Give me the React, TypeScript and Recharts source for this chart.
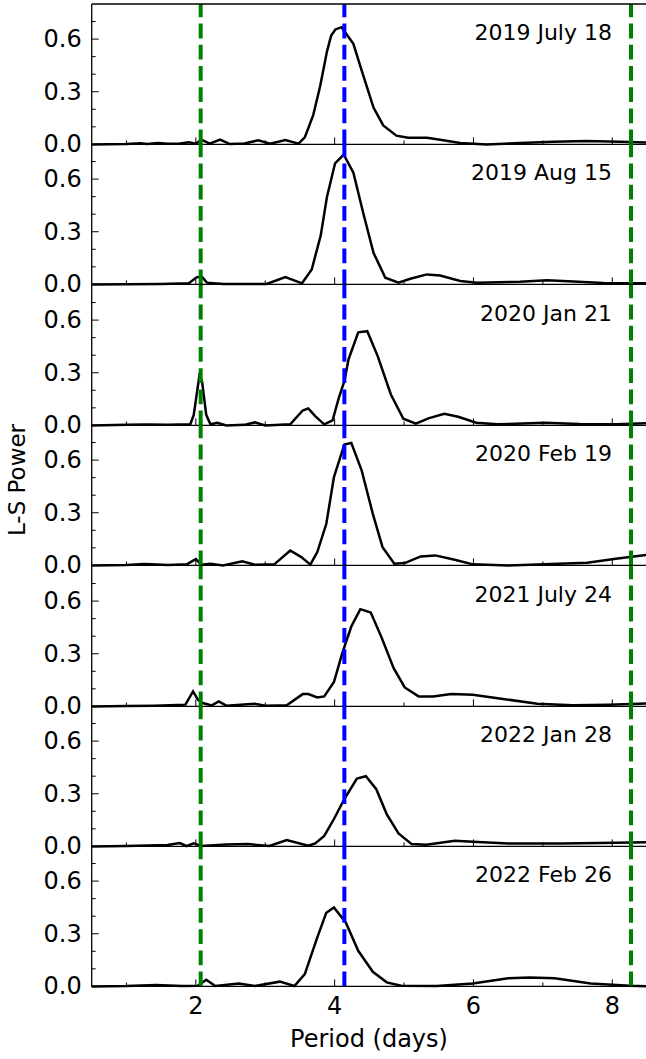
import { LineChart, Line, XAxis, YAxis, ReferenceLine } from "recharts";

// Lomb-Scargle power per observing night
const jul19Period = [0.5, 1.0, 1.2, 1.3, 1.45, 1.6, 1.75, 1.9, 2.0, 2.08, 2.2, 2.35, 2.49, 2.7, 2.9, 3.07, 3.29, 3.48, 3.57, 3.69, 3.79, 3.84, 3.89, 3.95, 4.01, 4.1, 4.27, 4.39, 4.56, 4.7, 4.89, 5.06, 5.33, 5.52, 5.81, 6.19, 6.67, 7.15, 7.63, 8.11, 8.5];
const jul19Power = [0, 0.002, 0.006, 0.002, 0.008, 0.003, 0.004, 0.012, 0.004, 0.027, 0.004, 0.027, 0.002, 0.005, 0.023, 0.004, 0.025, 0.004, 0.04, 0.165, 0.33, 0.43, 0.53, 0.62, 0.655, 0.668, 0.573, 0.42, 0.21, 0.108, 0.05, 0.038, 0.038, 0.027, 0.008, 0, 0.008, 0.015, 0.019, 0.015, 0.011];

const aug19Period = [0.5, 1.0, 1.5, 1.9, 2.01, 2.085, 2.16, 2.4, 3.02, 3.29, 3.53, 3.67, 3.8, 3.89, 4.006, 4.13, 4.27, 4.41, 4.56, 4.73, 4.92, 5.09, 5.33, 5.52, 5.81, 6.05, 6.67, 7.06, 7.44, 7.87, 8.5];
const aug19Power = [0, 0.001, 0.002, 0.006, 0.04, 0.044, 0.01, 0.002, 0.002, 0.042, 0.006, 0.085, 0.28, 0.5, 0.69, 0.74, 0.636, 0.41, 0.18, 0.038, 0.01, 0.032, 0.057, 0.051, 0.019, 0.01, 0.015, 0.023, 0.017, 0.008, 0.006];

const jan20Period = [0.5, 1.0, 1.3, 1.6, 1.92, 1.97, 2.05, 2.09, 2.15, 2.21, 2.31, 2.44, 2.7, 2.85, 3.0, 3.36, 3.54, 3.62, 3.72, 3.85, 3.97, 4.06, 4.14, 4.2, 4.34, 4.47, 4.62, 4.81, 4.99, 5.17, 5.35, 5.58, 5.78, 6.04, 6.35, 7.02, 7.53, 8.05, 8.5];
const jan20Power = [0, 0.003, 0.005, 0.003, 0.006, 0.06, 0.28, 0.25, 0.06, 0.006, 0.015, 0, 0.003, 0.017, 0, 0.006, 0.085, 0.097, 0.053, 0.006, 0.028, 0.157, 0.252, 0.376, 0.53, 0.537, 0.395, 0.176, 0.038, 0.01, 0.04, 0.066, 0.049, 0.015, 0.006, 0.015, 0.008, 0.006, 0.012];

const feb20Period = [0.5, 1.0, 1.25, 1.36, 1.6, 1.87, 2.0, 2.08, 2.21, 2.39, 2.67, 2.85, 3.13, 3.36, 3.52, 3.65, 3.75, 3.88, 3.99, 4.14, 4.24, 4.39, 4.55, 4.69, 4.86, 5.01, 5.24, 5.45, 5.73, 5.99, 6.5, 7.02, 7.64, 8.05, 8.5];
const feb20Power = [0, 0.002, 0.008, 0.006, 0.002, 0.006, 0.036, 0.004, 0.01, 0, 0.023, 0.004, 0.006, 0.085, 0.047, 0.004, 0.076, 0.237, 0.503, 0.689, 0.698, 0.54, 0.294, 0.104, 0.01, 0.013, 0.051, 0.057, 0.032, 0.006, 0, 0.006, 0.015, 0.038, 0.06];

const jul21Period = [0.5, 1.0, 1.4, 1.85, 1.96, 2.03, 2.1, 2.23, 2.33, 2.44, 2.85, 3.0, 3.31, 3.54, 3.62, 3.75, 3.85, 3.99, 4.11, 4.24, 4.37, 4.52, 4.68, 4.85, 5.01, 5.21, 5.42, 5.68, 5.99, 6.4, 6.92, 7.43, 7.95, 8.5];
const jul21Power = [0, 0.002, 0.004, 0.01, 0.085, 0.038, 0.019, 0.006, 0.028, 0.004, 0.015, 0.004, 0.006, 0.07, 0.07, 0.051, 0.057, 0.139, 0.304, 0.455, 0.554, 0.535, 0.389, 0.218, 0.108, 0.057, 0.057, 0.07, 0.066, 0.044, 0.015, 0.006, 0.01, 0.016];

const jan22Period = [0.5, 1.0, 1.59, 1.77, 1.87, 1.97, 2.08, 2.44, 2.75, 3.06, 3.31, 3.62, 3.72, 3.85, 3.99, 4.14, 4.32, 4.45, 4.6, 4.75, 4.92, 5.11, 5.32, 5.73, 5.99, 6.5, 7.28, 8.05, 8.5];
const jan22Power = [0, 0.002, 0.008, 0.019, 0.002, 0.017, 0.002, 0.011, 0.013, 0.002, 0.036, 0.004, 0.017, 0.06, 0.156, 0.27, 0.387, 0.4, 0.326, 0.184, 0.074, 0.013, 0.01, 0.032, 0.027, 0.017, 0.017, 0.021, 0.023];

const feb22Period = [0.5, 1.0, 1.43, 1.8, 2.03, 2.15, 2.28, 2.62, 2.85, 3.21, 3.42, 3.57, 3.75, 3.88, 3.99, 4.16, 4.34, 4.55, 4.75, 4.96, 5.47, 5.99, 6.5, 6.81, 7.17, 7.69, 8.25, 8.5];
const feb22Power = [0, 0.002, 0.008, 0.002, 0.004, 0.038, 0.002, 0.017, 0.002, 0.027, 0.002, 0.07, 0.279, 0.42, 0.45, 0.364, 0.203, 0.083, 0.023, 0.004, 0.002, 0.017, 0.046, 0.051, 0.046, 0.017, 0.004, 0.001];

const panelLabels = ["2019 July 18", "2019 Aug 15", "2020 Jan 21", "2020 Feb 19", "2021 July 24", "2022 Jan 28", "2022 Feb 26"];
const periods = [jul19Period, aug19Period, jan20Period, feb20Period, jul21Period, jan22Period, feb22Period];
const powers = [jul19Power, aug19Power, jan20Power, feb20Power, jul21Power, jan22Power, feb22Power];

const rotPeriod = 4.14;
const harmonics = [2.07, 8.27];
const xTicks = [1, 2, 3, 4, 5, 6, 7, 8];
const yTicks = [0, 0.1, 0.2, 0.3, 0.4, 0.5, 0.6, 0.7];
const yMajor = [0, 0.3, 0.6];

const FONT = "DejaVu Sans";
const PLOT_LEFT = 91.7;
const PLOT_RIGHT = 647;
const TOP0 = 4;
const PANEL_H = 140.4;
const PAD = 20;
const CHART_W = 660;
const PLOT_BOTTOM = PAD + PANEL_H;

function YTick({ y, payload }: any) {
  const v = payload.value;
  const major = yMajor.some((m) => Math.abs(m - v) < 1e-6);
  return (
    <g>
      <line x1={PLOT_LEFT} x2={PLOT_LEFT + (major ? 7 : 4)} y1={y} y2={y} stroke="#000" strokeWidth={1} />
      {major && (
        <text x={PLOT_LEFT - 10} y={y} textAnchor="end" dominantBaseline="central" fontSize={24} fontFamily={FONT} fill="#000">
          {v.toFixed(1)}
        </text>
      )}
    </g>
  );
}

function makeXTick(showLabel: boolean) {
  return function XTick({ x, payload }: any) {
    const major = payload.value % 2 === 0;
    return (
      <g>
        <line x1={x} x2={x} y1={PLOT_BOTTOM} y2={PLOT_BOTTOM - (major ? 7 : 4)} stroke="#000" strokeWidth={1} />
        {showLabel && major && (
          <text x={x} y={PLOT_BOTTOM + 27.7} textAnchor="middle" fontSize={24} fontFamily={FONT} fill="#000">
            {payload.value}
          </text>
        )}
      </g>
    );
  };
}

function Panel({ idx }: { idx: number }) {
  const last = idx === periods.length - 1;
  const bottomH = last ? 80 : 20;
  const data = periods[idx].map((p, i) => ({ x: p, y: powers[idx][i] }));
  const XTick = makeXTick(last);
  return (
    <div style={{ position: "absolute", left: 0, top: TOP0 + idx * PANEL_H - PAD }}>
      <LineChart
        width={CHART_W}
        height={PAD + PANEL_H + bottomH}
        data={data}
        margin={{ top: PAD, right: CHART_W - PLOT_RIGHT, bottom: 0, left: 0 }}
      >
        <XAxis
          dataKey="x"
          type="number"
          domain={[0.5, 8.5]}
          ticks={xTicks}
          interval={0}
          height={bottomH}
          tickLine={false}
          axisLine={{ stroke: "#000", strokeWidth: 1.3 }}
          tick={<XTick />}
        />
        <YAxis
          type="number"
          domain={[0, 0.8]}
          ticks={yTicks}
          interval={0}
          width={PLOT_LEFT}
          tickLine={false}
          axisLine={{ stroke: "#000", strokeWidth: 1.3 }}
          tick={<YTick />}
        />
        <Line type="linear" dataKey="y" stroke="#000" strokeWidth={2.5} dot={false} isAnimationActive={false} />
        {harmonics.map((h) => (
          <ReferenceLine key={h} x={h} stroke="#008000" strokeWidth={4} strokeDasharray="14.8 6.4" />
        ))}
        <ReferenceLine x={rotPeriod} stroke="#0000ff" strokeWidth={4} strokeDasharray="14.8 6.4" />
        {idx === 0 && <ReferenceLine y={0.8} stroke="#000" strokeWidth={1.3} />}
      </LineChart>
    </div>
  );
}

export default function App() {
  return (
    <div style={{ position: "absolute", left: 0, top: 0, width: 646, height: 1059, overflow: "hidden", background: "#fff" }}>
      {periods.map((_, i) => (
        <Panel key={i} idx={i} />
      ))}
      <svg width={646} height={1059} style={{ position: "absolute", left: 0, top: 0, pointerEvents: "none" }}>
        {panelLabels.map((label, i) => (
          <text key={label} x={612} y={TOP0 + i * PANEL_H + 36} textAnchor="end" fontSize={22} fontFamily={FONT} fill="#000">
            {label}
          </text>
        ))}
        <text x={369} y={1047} textAnchor="middle" fontSize={24} fontFamily={FONT} fill="#000">
          Period (days)
        </text>
        <text
          x={0}
          y={0}
          transform="translate(25 480) rotate(-90)"
          textAnchor="middle"
          fontSize={23}
          fontFamily={FONT}
          fill="#000"
        >
          L-S Power
        </text>
      </svg>
    </div>
  );
}
